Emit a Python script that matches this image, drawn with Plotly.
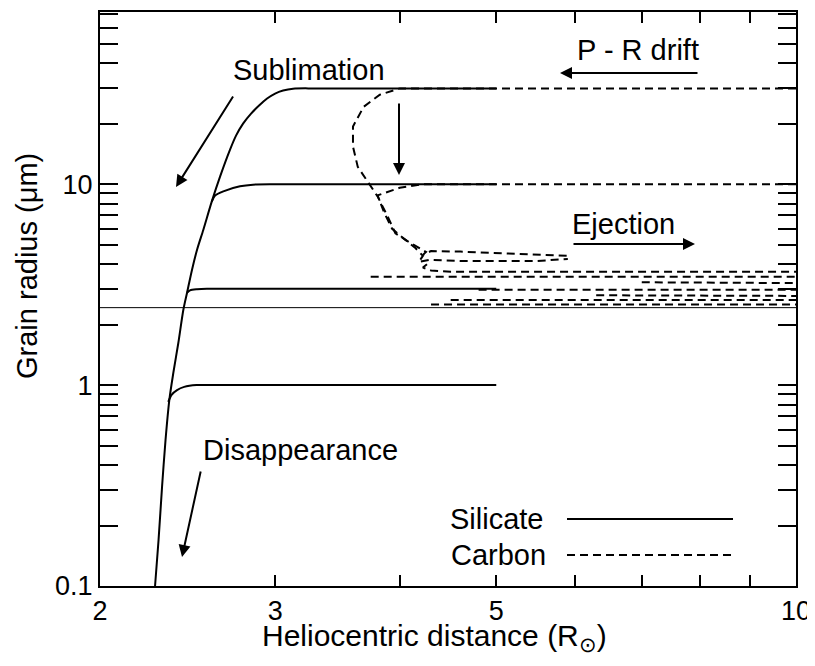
import plotly.graph_objects as go
import numpy as np

# ---------------- data ----------------
# Silicate: sublimation envelope (30 um grain) from 0.1 um up to its plateau
sil30_x = [2.2715, 2.290, 2.3086, 2.3273, 2.3479, 2.3697, 2.3973, 2.4252, 2.446, 2.4743, 2.5032, 2.540,
           2.5897, 2.6399, 2.7016, 2.7393, 2.7842, 2.8362, 2.8892, 2.9433, 2.9983, 3.0542, 3.1257, 3.3, 5.0]
sil30_y = [0.1, 0.1696, 0.3113, 0.534, 0.845, 1.152, 1.625, 2.372, 2.884, 3.754, 4.72, 5.94,
           8.19, 10.91, 14.87, 17.46, 20.04, 22.47, 24.64, 26.70, 28.28, 29.27, 29.9, 30.0, 30.0]
sil10_x = [2.5897, 2.6095, 2.6601, 2.7646, 2.849, 3.0, 5.0]
sil10_y = [8.19, 8.775, 9.22, 9.76, 9.95, 10.0, 10.0]
sil3_x = [2.446, 2.4629, 2.503, 2.561, 2.7, 5.0]
sil3_y = [2.884, 2.96, 3.0, 3.02, 3.02, 3.02]
sil1_x = [2.342, 2.36, 2.39, 2.43, 2.50, 2.6, 5.0]
sil1_y = [0.826, 0.895, 0.945, 0.98, 1.0, 1.0, 1.0]

# Carbon trajectories
c30_x = [10.0, 5.0, 4.0, 3.82, 3.68, 3.59, 3.59, 3.63, 3.72, 3.80, 3.89, 3.96, 4.10, 4.19, 4.25, 4.22, 4.30, 4.6, 5.0, 5.5, 5.9]
c30_y = [30.0, 30.0, 30.0, 27.9, 24.3, 19.4, 15.4, 12.2, 10.2, 8.7, 6.9, 5.7, 5.1, 4.8, 4.6, 4.45, 4.65, 4.62, 4.55, 4.45, 4.4]
c10_x = [10.0, 5.0, 4.22, 4.0, 3.80, 3.86, 3.93, 4.05, 4.15, 4.22, 4.18, 4.28, 4.6, 5.0, 5.5, 5.9]
c10_y = [10.0, 10.0, 10.0, 9.6, 8.8, 7.2, 6.0, 5.3, 4.8, 4.4, 4.1, 4.2, 4.15, 4.15, 4.15, 4.25]
cA_x = [4.26, 4.22, 4.30, 4.5, 10.0]
cA_y = [4.0, 3.85, 3.72, 3.67, 3.67]
cB_x = [3.74, 10.0]
cB_y = [3.46, 3.46]
cC_x = [7.0, 10.0]
cC_y = [3.25, 3.22]
cD_x = [4.8, 10.0]
cD_y = [2.98, 2.98]
cE_x = [6.3, 10.0]
cE_y = [2.80, 2.78]
cF_x = [4.5, 10.0]
cF_y = [2.65, 2.65]
cG_x = [4.3, 10.0]
cG_y = [2.52, 2.52]

ref_level = 2.43  # thin horizontal reference line

x_tickvals = [2, 3, 4, 5, 6, 7, 8, 9, 10]
x_ticktext = ["2", "3", "", "5", "", "", "", "", "10"]
y_tickvals = [0.1, 0.2, 0.3, 0.4, 0.5, 0.6, 0.7, 0.8, 0.9,
              1, 2, 3, 4, 5, 6, 7, 8, 9,
              10, 20, 30, 40, 50, 60, 70]
y_ticktext = ["0.1"] + [""] * 8 + ["1"] + [""] * 8 + ["10"] + [""] * 6

FONT = "Liberation Sans, Arial, Helvetica, sans-serif"
DASH = "8px,5px"

fig = go.Figure()

for xs, ys in [(sil30_x, sil30_y), (sil10_x, sil10_y), (sil3_x, sil3_y), (sil1_x, sil1_y)]:
    fig.add_trace(go.Scatter(x=xs, y=ys, mode="lines", line=dict(color="black", width=2, shape="spline", smoothing=0.8),
                             showlegend=False, hoverinfo="skip"))

for xs, ys in [(c30_x, c30_y), (c10_x, c10_y), (cA_x, cA_y), (cB_x, cB_y), (cC_x, cC_y),
               (cD_x, cD_y), (cE_x, cE_y), (cF_x, cF_y), (cG_x, cG_y)]:
    fig.add_trace(go.Scatter(x=xs, y=ys, mode="lines", line=dict(color="black", width=2, dash=DASH),
                             showlegend=False, hoverinfo="skip"))

fig.add_trace(go.Scatter(x=[2, 10], y=[ref_level, ref_level], mode="lines",
                         line=dict(color="black", width=1), showlegend=False, hoverinfo="skip"))

# page offset of the figure (browser default body margin)
OFF = 8
W, H = 799, 650
# plot area in page pixels: x 100..796, y 12..586
L, T = 100 - OFF, 12 - OFF
pw, ph = 696, 574
R = W - L - pw
B = H - T - ph


def px(x):
    return (x - 100) / pw


def py(y):
    return (586 - y) / ph


annos = []
arrow_kw = dict(showarrow=True, arrowhead=2, arrowsize=1.2, arrowwidth=2, arrowcolor="black",
                xref="paper", yref="paper", text="")
# arrows (head position, tail offset), page pixels
for hx, hy, tx, ty in [(176, 187, 234, 95), (399, 175, 399, 102), (560, 73, 699, 73),
                       (695, 244, 572, 244), (182, 557, 201, 470)]:
    annos.append(dict(x=px(hx), y=py(hy), ax=tx - hx, ay=ty - hy, **arrow_kw))


def tk(size):
    return dict(showarrow=False, xref="paper", yref="paper", yanchor="middle",
                font=dict(family=FONT, size=size, color="black"))


annos += [
    dict(x=px(309), y=py(70), text="Sublimation", xanchor="center", **tk(29)),
    dict(x=px(638), y=py(50), text="P - R drift", xanchor="center", **tk(29)),
    dict(x=px(623), y=py(224), text="Ejection", xanchor="center", **tk(29)),
    dict(x=px(300), y=py(450), text="Disappearance", xanchor="center", **tk(29)),
    dict(x=px(546), y=py(519), text="Silicate", xanchor="right", **tk(29)),
    dict(x=px(548), y=py(555), text="Carbon", xanchor="right", **tk(29)),
    dict(x=px(434), y=py(637), text="Heliocentric distance (R<sub>⊙</sub>)", xanchor="center", **tk(30)),
    dict(x=px(27), y=py(266), text="Grain radius (μm)", textangle=-90, xanchor="center", **tk(29)),
]

shapes = [
    dict(type="line", xref="paper", yref="paper", x0=px(567), x1=px(733), y0=py(519), y1=py(519),
         line=dict(color="black", width=2)),
    dict(type="line", xref="paper", yref="paper", x0=px(567), x1=px(733), y0=py(555), y1=py(555),
         line=dict(color="black", width=2, dash=DASH)),
]

fig.update_layout(
    width=W, height=H, margin=dict(l=L, r=R, t=T, b=B, pad=0, autoexpand=False),
    plot_bgcolor="white", paper_bgcolor="white",
    font=dict(family=FONT, size=27, color="black"),
    annotations=annos, shapes=shapes,
    xaxis=dict(type="log", range=[np.log10(2), 1], tickmode="array", tickvals=x_tickvals, ticktext=x_ticktext,
               ticks="inside", ticklen=11, tickwidth=2, tickcolor="black", showline=True, linecolor="black",
               linewidth=2, mirror="ticks", showgrid=False, zeroline=False, tickfont=dict(size=27),
               automargin=False, ticklabeloverflow="allow"),
    yaxis=dict(type="log", range=[-1, np.log10(72)], tickmode="array", tickvals=y_tickvals, ticktext=y_ticktext,
               ticks="inside", ticklen=18, tickwidth=2, tickcolor="black", showline=True, linecolor="black",
               linewidth=2, mirror="ticks", showgrid=False, zeroline=False, tickfont=dict(size=27),
               automargin=False, ticklabeloverflow="allow"),
)

fig.write_html("out.html")
